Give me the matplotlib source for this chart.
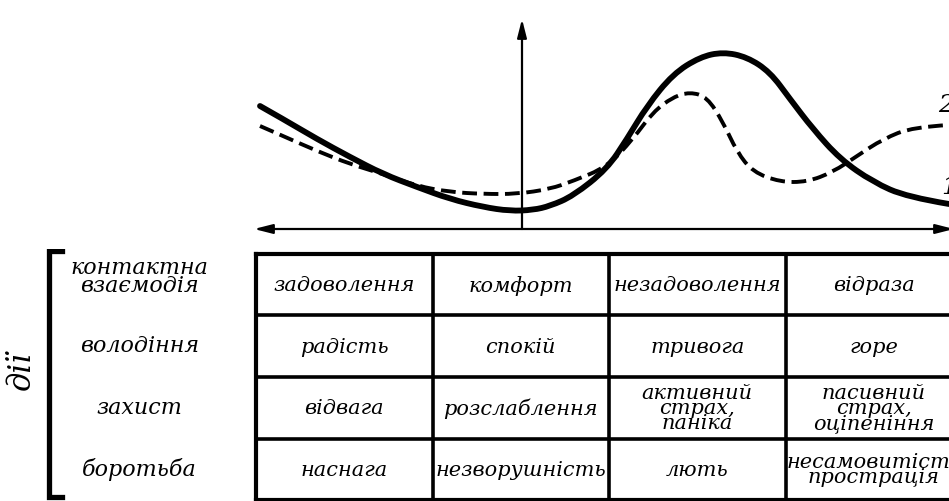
import matplotlib.pyplot as plt
from matplotlib.path import Path
from matplotlib.patches import PathPatch

plt.rcParams['font.family'] = ['DejaVu Serif']

# curve 1 (solid) and curve 2 (dashed)
x1 = [-2.62, -2.39, -2.05, -1.72, -1.39, -1.05, -0.72, -0.39, -0.12, 0.11, 0.28,
      0.51, 0.85, 1.05, 1.25, 1.51, 1.78, 2.01, 2.25, 2.48, 2.68, 2.91, 3.18,
      3.51, 3.85, 4.27]
y1 = [1.23, 1.10, 0.90, 0.72, 0.55, 0.42, 0.30, 0.22, 0.18, 0.19, 0.23,
      0.33, 0.60, 0.90, 1.23, 1.55, 1.72, 1.77, 1.72, 1.57, 1.30, 1.00, 0.70,
      0.47, 0.32, 0.25]
x2 = [-2.62, -2.39, -2.05, -1.72, -1.39, -1.05, -0.72, -0.39, -0.05, 0.28, 0.51,
      0.85, 1.11, 1.31, 1.51, 1.68, 1.85, 2.01, 2.15, 2.31, 2.58, 2.85, 3.11,
      3.35, 3.61, 3.91, 4.27]
y2 = [1.03, 0.93, 0.78, 0.65, 0.55, 0.43, 0.37, 0.35, 0.35, 0.40, 0.48,
      0.62, 0.90, 1.17, 1.32, 1.37, 1.32, 1.07, 0.77, 0.57, 0.47, 0.47, 0.57,
      0.73, 0.90, 1.02, 1.04]

actions = ['контактна\nвзаємодія', 'володіння', 'захист', 'боротьба']
cells = [
    ['задоволення', 'комфорт', 'незадоволення', 'відраза'],
    ['радість', 'спокій', 'тривога', 'горе'],
    ['відвага', 'розслаблення', 'активний\nстрах,\nпаніка', 'пасивний\nстрах,\nоціпеніння'],
    ['наснага', 'незворушність', 'лють', 'несамовитість\nпрострація'],
]


def smooth_path(xs, ys):
    # quadratic bezier through midpoints, the read points act as control points
    verts = [(xs[0], ys[0])]
    codes = [Path.MOVETO]
    for i in range(1, len(xs) - 1):
        mx = (xs[i] + xs[i + 1]) / 2
        my = (ys[i] + ys[i + 1]) / 2
        if i == len(xs) - 2:
            mx, my = xs[-1], ys[-1]
        verts += [(xs[i], ys[i]), (mx, my)]
        codes += [Path.CURVE3, Path.CURVE3]
    return Path(verts, codes)


fig = plt.figure(figsize=(9.49, 5.02), dpi=100)

# --- curves ---
ax = fig.add_axes([240 / 949, (502 - 240) / 502, 709 / 949, 230 / 502])
ax.set_xlim(-2.82, 4.27)
ax.set_ylim(-0.10, 2.20)
ax.axis('off')

ax.add_patch(PathPatch(smooth_path(x1, y1), fill=False, color='black', lw=4.2,
                       capstyle='round', joinstyle='round'))
ax.add_patch(PathPatch(smooth_path(x2, y2), fill=False, color='black', lw=2.8,
                       linestyle=(0, (3.8, 1.7))))

ax.annotate('', xy=(4.32, 0), xytext=(-2.68, 0), annotation_clip=False,
            arrowprops=dict(arrowstyle='<|-|>,head_length=1.1,head_width=0.28',
                            lw=1.6, color='black', shrinkA=0, shrinkB=0))
ax.annotate('', xy=(0, 2.10), xytext=(0, 0), annotation_clip=False,
            arrowprops=dict(arrowstyle='-|>,head_length=1.1,head_width=0.28',
                            lw=1.6, color='black', shrinkA=0, shrinkB=0))
ax.text(4.16, 1.25, '2', fontsize=18, style='italic', ha='left', va='center')
ax.text(4.19, 0.42, '1', fontsize=18, style='italic', ha='left', va='center')

# --- table ---
tb = fig.add_axes([0, 0, 962 / 949, 252 / 502])
tb.set_xlim(-256 / 176.5, 4.0)
tb.set_ylim(4.016, -0.081)
tb.axis('off')

ncol = len(cells[0])
nrow = len(cells)
for r in range(nrow + 1):
    tb.plot([0, ncol], [r, r], color='black', lw=3.0 if r in (0, nrow) else 2.6,
            solid_capstyle='projecting')
for c in range(ncol + 1):
    tb.plot([c, c], [0, nrow], color='black', lw=3.0 if c == 0 else 2.6,
            solid_capstyle='projecting')

for r, row in enumerate(cells):
    for c, txt in enumerate(row):
        tb.text(c + 0.5, r + 0.5, txt, ha='center', va='center', fontsize=15,
                style='italic', linespacing=0.72)

for r, lab in enumerate(actions):
    dy = -0.12 if '\n' in lab else 0
    tb.text(-0.66, r + 0.48 + dy, lab, ha='center', va='center', fontsize=16,
            style='italic', linespacing=0.78)

# bracket and "дії"
tb.plot([-1.10, -1.17, -1.17, -1.10], [-0.05, -0.05, 3.95, 3.95], color='black',
        lw=3.8, solid_joinstyle='miter')
tb.text(-1.33, 1.88, 'дії', rotation=90, ha='center', va='center', fontsize=22,
        style='italic')

fig.savefig('out.png', dpi=100, facecolor='white')
